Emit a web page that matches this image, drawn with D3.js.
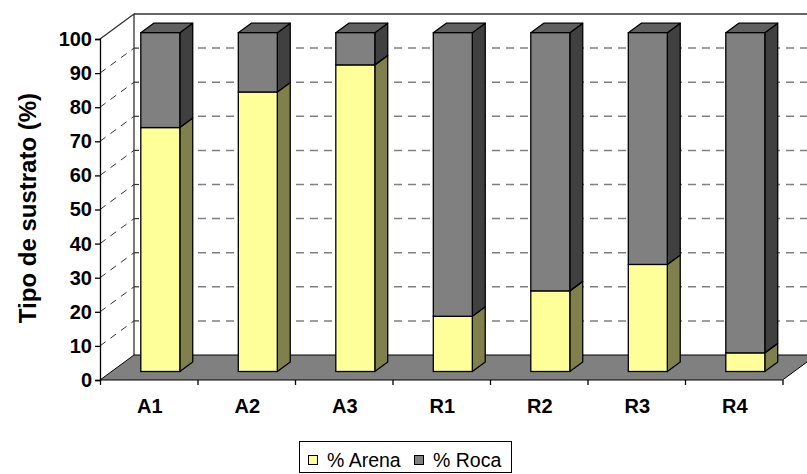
<!DOCTYPE html>
<html>
<head>
<meta charset="utf-8">
<script src="https://cdn.jsdelivr.net/npm/d3@7"></script>
<style>
  body { margin: 0; background: #fff; }
  text { font-family: "Liberation Sans", Arial, sans-serif; }
</style>
</head>
<body>
<script>
// data
var categories = ["A1", "A2", "A3", "R1", "R2", "R3", "R4"];
var arena = [72, 82.5, 90.5, 16.3, 23.8, 31.6, 5.5];
var roca = [28, 17.5, 9.5, 83.7, 76.2, 68.4, 94.5];
var yTicks = [0, 10, 20, 30, 40, 50, 60, 70, 80, 90, 100];
var seriesNames = ["% Arena", "% Roca"];

var w = 807, h = 474;

// 3D depth offset of the walls
var depth = {dx: 34, dy: -25};
// bar depth (front and back plane)
var f1 = 0.34, f2 = 0.72;

var svg = d3.select("body").append("svg")
  .attr("width", w)
  .attr("height", h);

var x = d3.scaleBand().domain(categories).range([100, 782.5]);
var xt = d3.scaleLinear().domain([0, categories.length]).range([100, 782.5]);
var y = d3.scaleLinear().domain([0, 100]).range([380, 39]);
var yBar = d3.scaleLinear().domain([0, 100]).range([380 + depth.dy * f1, 39 + depth.dy * f1 + 2.2]);

var x0 = 100, x1 = 782.5;

// back wall + left wall
var gWall = svg.append("g");
gWall.append("path")
  .attr("d", "M" + x0 + "," + y(100) + "L" + (x0 + depth.dx) + "," + (y(100) + depth.dy) +
    "L" + (x0 + depth.dx) + "," + (y(0) + depth.dy))
  .attr("fill", "none").attr("stroke", "#333").attr("stroke-width", 1.3);
gWall.append("line")
  .attr("x1", x0 + depth.dx).attr("x2", x1 + depth.dx + 10)
  .attr("y1", y(100) + depth.dy).attr("y2", y(100) + depth.dy)
  .attr("stroke", "#333").attr("stroke-width", 1.3);

// gridlines
yTicks.slice(1, -1).forEach(function(t) {
  gWall.append("line")
    .attr("x1", x0).attr("y1", y(t))
    .attr("x2", x0 + depth.dx).attr("y2", y(t) + depth.dy)
    .attr("stroke", "#333").attr("stroke-width", 1)
    .attr("stroke-dasharray", "7,6");
  gWall.append("line")
    .attr("x1", x0 + depth.dx).attr("y1", y(t) + depth.dy)
    .attr("x2", x0 + depth.dx + 5).attr("y2", y(t) + depth.dy)
    .attr("stroke", "#333").attr("stroke-width", 1.2);
  gWall.append("line")
    .attr("x1", x0 + depth.dx + 8).attr("y1", y(t) + depth.dy)
    .attr("x2", x1 + depth.dx).attr("y2", y(t) + depth.dy)
    .attr("stroke", "#808080").attr("stroke-width", 1.5)
    .attr("stroke-dasharray", "8,6");
});

// floor
svg.append("path")
  .attr("d", "M" + x0 + "," + y(0) + "L" + x1 + "," + y(0) +
    "L" + (x1 + depth.dx) + "," + (y(0) + depth.dy) +
    "L" + (x0 + depth.dx) + "," + (y(0) + depth.dy) + "Z")
  .attr("fill", "#808080").attr("stroke", "#000").attr("stroke-width", 1);

// front axis
var yAxis = d3.axisLeft(y).tickValues(yTicks).tickSize(5).tickPadding(3);
var gy = svg.append("g").attr("transform", "translate(" + x0 + ",0)").call(yAxis);
gy.select(".domain").attr("stroke", "#000").attr("stroke-width", 1.3);
gy.selectAll(".tick line").attr("stroke", "#000").attr("stroke-width", 1.3);
gy.selectAll(".tick text")
  .attr("font-size", 20).attr("font-weight", "bold")
  .attr("font-family", "Liberation Sans, Arial, sans-serif").attr("fill", "#000");

var xAxis = d3.axisBottom(xt).tickValues(d3.range(categories.length + 1)).tickSize(5).tickFormat("");
var gx = svg.append("g").attr("transform", "translate(0," + y(0) + ")").call(xAxis);
gx.select(".domain").remove();
gx.selectAll(".tick line").attr("stroke", "#000").attr("stroke-width", 1.3);

svg.selectAll("text.xlab")
  .data(categories)
  .enter().append("text")
  .attr("class", "xlab")
  .attr("x", function(d) { return x(d) + x.bandwidth() / 2 + 1; })
  .attr("y", 413)
  .attr("text-anchor", "middle")
  .attr("font-size", 20).attr("font-weight", "bold")
  .text(function(d) { return d; });

// bars
var bw = x.bandwidth() * 0.4;
var sdx = depth.dx * (f2 - f1), sdy = depth.dy * (f2 - f1);

function box(g, left, yb, yt, front, side, top) {
  g.append("path")
    .attr("d", "M" + (left + bw) + "," + yb + "L" + (left + bw + sdx) + "," + (yb + sdy) +
      "L" + (left + bw + sdx) + "," + (yt + sdy) + "L" + (left + bw) + "," + yt + "Z")
    .attr("fill", side).attr("stroke", "#000").attr("stroke-width", 1.3).attr("stroke-linejoin", "round");
  if (top) {
    g.append("path")
      .attr("d", "M" + left + "," + yt + "L" + (left + sdx) + "," + (yt + sdy) +
        "L" + (left + bw + sdx) + "," + (yt + sdy) + "L" + (left + bw) + "," + yt + "Z")
      .attr("fill", top).attr("stroke", "#000").attr("stroke-width", 1.3).attr("stroke-linejoin", "round");
  }
  g.append("rect")
    .attr("x", left).attr("y", yt)
    .attr("width", bw).attr("height", yb - yt)
    .attr("fill", front).attr("stroke", "#000").attr("stroke-width", 1.3);
}

categories.forEach(function(c, i) {
  var g = svg.append("g");
  var left = x(c) + (x.bandwidth() - bw) / 2 + depth.dx * f1;
  var ya = yBar(arena[i]);
  var yr = yBar(arena[i] + roca[i]);
  box(g, left, yBar(0), ya, "#FFFF99", "#80804C", null);
  box(g, left, ya, yr, "#808080", "#404040", "#606060");
});

// y title
svg.append("text")
  .attr("transform", "translate(36,208) rotate(-90)")
  .attr("text-anchor", "middle")
  .attr("font-size", 24).attr("font-weight", "bold")
  .text("Tipo de sustrato (%)");

// legend
var lg = svg.append("g");
lg.append("rect")
  .attr("x", 299.5).attr("y", 441.5).attr("width", 212).attr("height", 31)
  .attr("fill", "#fff").attr("stroke", "#000").attr("stroke-width", 1);
var legColors = ["#FFFF99", "#808080"];
var legX = [308, 414];
seriesNames.forEach(function(s, i) {
  lg.append("rect")
    .attr("x", legX[i] + 0.5).attr("y", 455.5).attr("width", 9).attr("height", 9)
    .attr("fill", legColors[i]).attr("stroke", "#000").attr("stroke-width", 1);
  lg.append("text")
    .attr("x", legX[i] + 19).attr("y", 467)
    .attr("font-size", 19.5)
    .text(s);
});
</script>
</body>
</html>
